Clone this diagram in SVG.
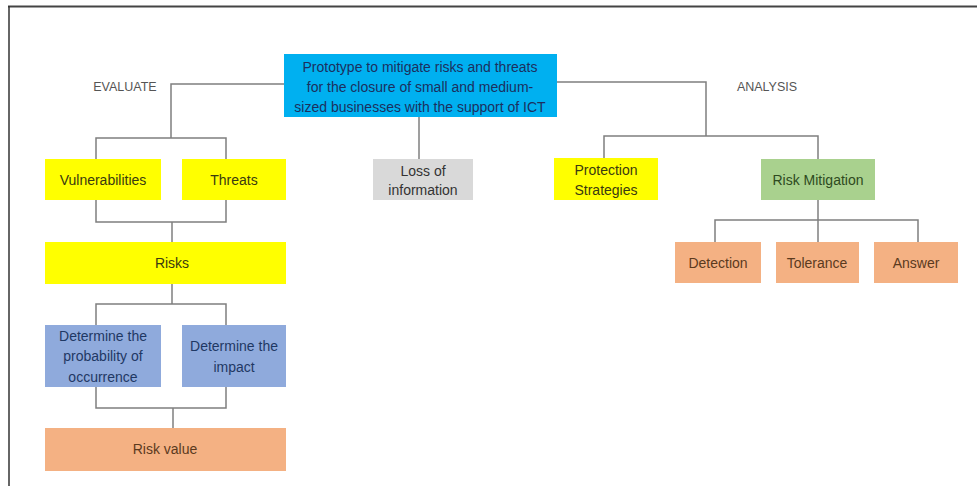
<svg xmlns="http://www.w3.org/2000/svg" width="977" height="486" viewBox="0 0 977 486">
<style>
text{font-family:"Liberation Sans","DejaVu Sans",sans-serif;font-size:14px;text-anchor:middle;dominant-baseline:central}
.lbl{fill:#555;font-size:12.5px}
.c line,.c polyline{stroke:#7f7f7f;stroke-width:1.5;fill:none}
.y rect{fill:#ffff00}.y text{fill:#3a3a10}
.b rect{fill:#8faadc}.b text{fill:#1f3864}
.o rect{fill:#f4b183}.o text{fill:#5b3a1e}
.g rect{fill:#a9d18e}.g text{fill:#2e4a20}
.gr rect{fill:#d9d9d9}.gr text{fill:#333}
.t rect{fill:#00b0f0}.t text{fill:#1c2f5e}
</style>
<rect width="977" height="486" fill="#fff"/>
<line x1="8" y1="6.5" x2="977" y2="6.5" stroke="#444" stroke-width="2"/>
<line x1="9" y1="6" x2="9" y2="486" stroke="#333" stroke-width="1.5"/>
<text class="lbl" x="125" y="87">EVALUATE</text>
<text class="lbl" x="767" y="87">ANALYSIS</text>
<g class="c" id="connectors">
<polyline points="284,84 171,84 171,138"/>
<polyline points="96,159 96,138 226,138 226,159"/>
<polyline points="96,200 96,222 226,222 226,200"/>
<line x1="172" y1="222" x2="172" y2="242"/>
<line x1="172" y1="284" x2="172" y2="304"/>
<polyline points="96,325 96,304 226,304 226,325"/>
<polyline points="96,387 96,408 226,408 226,387"/>
<line x1="173" y1="408" x2="173" y2="428"/>
<line x1="419" y1="117" x2="419" y2="159"/>
<polyline points="557,82 706,82 706,136"/>
<polyline points="604,158 604,136 818,136 818,159"/>
<line x1="818" y1="200" x2="818" y2="220"/>
<polyline points="715,242 715,220 918,220 918,242"/>
<line x1="818" y1="220" x2="818" y2="242"/>
</g>
<g id="title" class="t"><rect x="284" y="54" width="273" height="63"/>
<text x="420" y="67">Prototype to mitigate risks and threats</text>
<text x="420" y="87">for the closure of small and medium-</text>
<text x="420" y="107">sized businesses with the support of ICT</text></g>
<g id="vulnerabilities" class="y"><rect x="45" y="159" width="116" height="41"/><text x="103" y="180">Vulnerabilities</text></g>
<g id="threats" class="y"><rect x="182" y="159" width="104" height="41"/><text x="234" y="180">Threats</text></g>
<g id="risks" class="y"><rect x="45" y="242" width="241" height="42"/><text x="172" y="263">Risks</text></g>
<g id="probability" class="b"><rect x="45" y="325" width="116" height="62"/><text x="103" y="336">Determine the</text><text x="103" y="356">probability of</text><text x="103" y="377">occurrence</text></g>
<g id="impact" class="b"><rect x="182" y="325" width="104" height="62"/><text x="234" y="346">Determine the</text><text x="234" y="367">impact</text></g>
<g id="riskvalue" class="o"><rect x="45" y="428" width="241" height="43"/><text x="165" y="449">Risk value</text></g>
<g id="loss" class="gr"><rect x="373" y="159" width="100" height="41"/><text x="423" y="171">Loss of</text><text x="423" y="190">information</text></g>
<g id="protection" class="y"><rect x="554" y="158" width="104" height="42"/><text x="606" y="170">Protection</text><text x="606" y="190">Strategies</text></g>
<g id="mitigation" class="g"><rect x="761" y="159" width="114" height="41"/><text x="818" y="180">Risk Mitigation</text></g>
<g id="detection" class="o"><rect x="675" y="242" width="86" height="41"/><text x="718" y="263">Detection</text></g>
<g id="tolerance" class="o"><rect x="776" y="242" width="83" height="41"/><text x="817" y="263">Tolerance</text></g>
<g id="answer" class="o"><rect x="874" y="242" width="84" height="41"/><text x="916" y="263">Answer</text></g>
</svg>
